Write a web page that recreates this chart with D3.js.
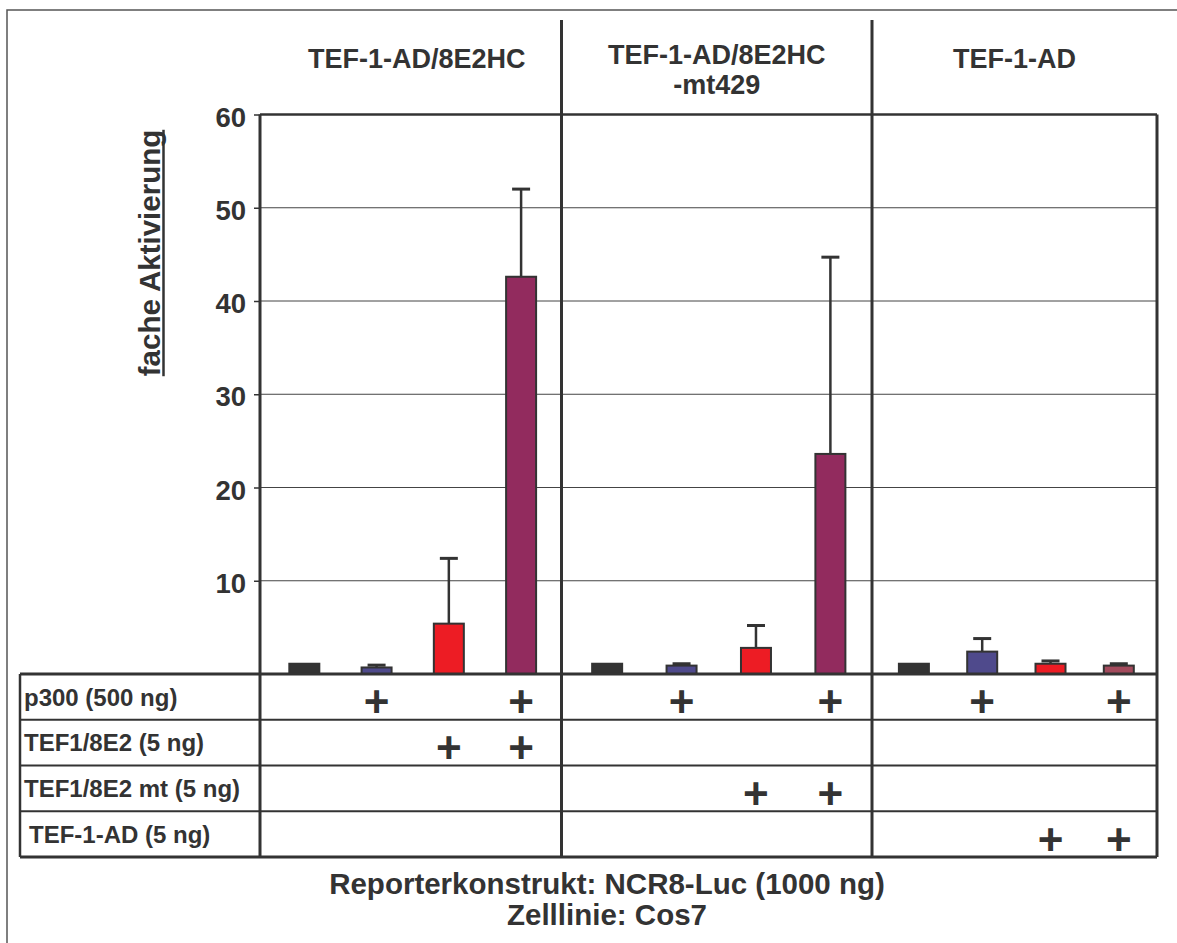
<!DOCTYPE html>
<html>
<head>
<meta charset="utf-8">
<script src="https://cdn.jsdelivr.net/npm/d3@7"></script>
<style>
  html, body { margin: 0; padding: 0; background: #fff; }
  svg { display: block; }
  text { font-family: "Liberation Sans", Arial, Helvetica, sans-serif; font-weight: bold; fill: #333; }
</style>
</head>
<body>
<svg id="chart" width="1177" height="943"></svg>
<script>
// ---- data ----
const groupTitles = [["TEF-1-AD/8E2HC"], ["TEF-1-AD/8E2HC", "-mt429"], ["TEF-1-AD"]];
// mean fold activation, four transfections per construct
const meanValues = [
  [1.1, 0.7, 5.4, 42.6],
  [1.1, 0.9, 2.8, 23.6],
  [1.1, 2.4, 1.1, 0.9]
];
// upper error (standard deviation)
const errValues = [
  [0, 0.25, 7.0, 9.4],
  [0, 0.2, 2.4, 21.1],
  [0, 1.4, 0.3, 0.2]
];
const yTicks = [10, 20, 30, 40, 50, 60];
const yLabel = "fache Aktivierung";
const rowLabels = ["p300 (500 ng)", "TEF1/8E2 (5 ng)", "TEF1/8E2 mt (5 ng)", "TEF-1-AD (5 ng)"];
// which plasmid was co-transfected (1 = "+") for the 12 bars
const plusRows = [
  [0, 1, 0, 1, 0, 1, 0, 1, 0, 1, 0, 1],
  [0, 0, 1, 1, 0, 0, 0, 0, 0, 0, 0, 0],
  [0, 0, 0, 0, 0, 0, 1, 1, 0, 0, 0, 0],
  [0, 0, 0, 0, 0, 0, 0, 0, 0, 0, 1, 1]
];
const footerLines = ["Reporterkonstrukt: NCR8-Luc (1000 ng)", "Zelllinie: Cos7"];

// ---- styling ----
const barFills = [
  ["#333333", "#4f4a8c", "#ed1c24", "#922b5e"],
  ["#333333", "#4f4a8c", "#ed1c24", "#922b5e"],
  ["#333333", "#4f4a8c", "#ed1c24", "#a34a5c"]
];
const ink = "#333";

// ---- layout ----
const W = 1177, H = 943;
const plotLeft = 260, plotRight = 1157, plotTop = 114.5, baseY = 674;
const groupEdges = [plotLeft, 561.5, 872, plotRight];
const tableLeft = 20, rowH = 45.75;
const tableBottom = baseY + rowH * rowLabels.length;

const svg = d3.select("#chart");
svg.append("rect").attr("width", W).attr("height", H).attr("fill", "#fff");

const y = d3.scaleLinear().domain([0, 60]).range([baseY, plotTop]);

// per-group x scales
const inner = groupEdges.slice(0, 3).map((x0, g) => {
  const x1 = groupEdges[g + 1], w = x1 - x0;
  return d3.scalePoint().domain(d3.range(4)).range([x0 + 0.147 * w, x0 + 0.866 * w]);
});

// outer frame
svg.append("path")
  .attr("d", `M7,${H} V10 H${W}`)
  .attr("fill", "none").attr("stroke", "#555").attr("stroke-width", 1.5);

// gridlines
svg.append("g").selectAll("line")
  .data(yTicks.filter(t => t < 60))
  .join("line")
  .attr("x1", plotLeft).attr("x2", plotRight)
  .attr("y1", d => y(d)).attr("y2", d => y(d))
  .attr("stroke", "#444").attr("stroke-width", 1);

// y axis ticks and labels
const axis = svg.append("g")
  .attr("transform", `translate(${plotLeft},0)`)
  .call(d3.axisLeft(y).tickValues(yTicks).tickSize(6).tickPadding(8));
axis.select(".domain").remove();
axis.selectAll(".tick line").attr("stroke", ink).attr("stroke-width", 1.5);
axis.selectAll(".tick text")
  .attr("font-family", null).attr("font-size", 27.5)
  .attr("dy", "0.42em").attr("fill", ink);

// y axis title (underlined)
const yl = svg.append("text")
  .attr("transform", `translate(160,253) rotate(-90)`)
  .attr("text-anchor", "middle")
  .attr("font-size", 29.5)
  .text(yLabel);
const ylLen = yl.node().getComputedTextLength();
svg.append("line")
  .attr("x1", 163.5).attr("x2", 163.5)
  .attr("y1", 253 - ylLen / 2).attr("y2", 253 + ylLen / 2)
  .attr("stroke", ink).attr("stroke-width", 2.5);

// bars and error bars
const bw = 30;
meanValues.forEach((vals, g) => {
  const gs = svg.append("g");
  vals.forEach((v, i) => {
    const cx = inner[g](i), e = errValues[g][i];
    if (e > 0) {
      gs.append("line")
        .attr("x1", cx).attr("x2", cx)
        .attr("y1", y(v)).attr("y2", y(v + e))
        .attr("stroke", ink).attr("stroke-width", 2.5);
      gs.append("line")
        .attr("x1", cx - 9).attr("x2", cx + 9)
        .attr("y1", y(v + e)).attr("y2", y(v + e))
        .attr("stroke", ink).attr("stroke-width", 3);
    }
    gs.append("rect")
      .attr("x", cx - bw / 2).attr("y", y(v))
      .attr("width", bw).attr("height", y(0) - y(v))
      .attr("fill", barFills[g][i])
      .attr("stroke", ink).attr("stroke-width", 2);
  });
});

// plot frame: top, right
svg.append("line").attr("x1", plotLeft).attr("x2", plotRight)
  .attr("y1", plotTop).attr("y2", plotTop)
  .attr("stroke", ink).attr("stroke-width", 2.5);
svg.append("line").attr("x1", plotRight).attr("x2", plotRight)
  .attr("y1", plotTop).attr("y2", tableBottom)
  .attr("stroke", ink).attr("stroke-width", 3);
// left axis line continuing as the table column rule
svg.append("line").attr("x1", plotLeft).attr("x2", plotLeft)
  .attr("y1", plotTop).attr("y2", tableBottom)
  .attr("stroke", ink).attr("stroke-width", 3);

// group dividers
svg.append("g").selectAll("line")
  .data(groupEdges.slice(1, 3))
  .join("line")
  .attr("x1", d => d).attr("x2", d => d)
  .attr("y1", 20).attr("y2", tableBottom)
  .attr("stroke", ink).attr("stroke-width", 3);

// table rules
const rules = d3.range(rowLabels.length + 1).map(r => baseY + r * rowH);
svg.append("g").selectAll("line")
  .data(rules)
  .join("line")
  .attr("x1", tableLeft).attr("x2", plotRight)
  .attr("y1", d => d).attr("y2", d => d)
  .attr("stroke", ink)
  .attr("stroke-width", (d, i) => (i === 0 || i === rules.length - 1) ? 3 : 2);
svg.append("line").attr("x1", tableLeft).attr("x2", tableLeft)
  .attr("y1", baseY).attr("y2", tableBottom)
  .attr("stroke", ink).attr("stroke-width", 2.5);

// row labels
svg.append("g").selectAll("text")
  .data(rowLabels)
  .join("text")
  .attr("x", (d, i) => i === 3 ? 29 : 24)
  .attr("y", (d, i) => baseY + (i + 0.5) * rowH)
  .attr("dy", "0.36em")
  .attr("font-size", 24)
  .text(d => d);

// plus signs
const barCenters = meanValues.flatMap((vals, g) => vals.map((v, i) => inner[g](i)));
plusRows.forEach((row, r) => {
  svg.append("g").selectAll("text")
    .data(row.map((f, k) => ({ f, k })).filter(d => d.f))
    .join("text")
    .attr("x", d => barCenters[d.k])
    .attr("y", baseY + (r + 0.5) * rowH + 5)
    .attr("dy", "0.353em")
    .attr("text-anchor", "middle")
    .attr("font-size", 44)
    .text("+");
});

// group titles
groupTitles.forEach((lines, g) => {
  const cx = (groupEdges[g] + groupEdges[g + 1]) / 2 + (g === 0 ? 6 : 0);
  const t = svg.append("text")
    .attr("text-anchor", "middle")
    .attr("font-size", 27);
  lines.forEach((ln, j) => {
    t.append("tspan")
      .attr("x", cx)
      .attr("y", (lines.length === 1 ? 68 : 64) + j * 30)
      .text(ln);
  });
});

// footer
svg.append("g").selectAll("text")
  .data(footerLines)
  .join("text")
  .attr("x", 607)
  .attr("y", (d, i) => 894 + i * 31)
  .attr("text-anchor", "middle")
  .attr("font-size", 29.5)
  .text(d => d);
</script>
</body>
</html>
